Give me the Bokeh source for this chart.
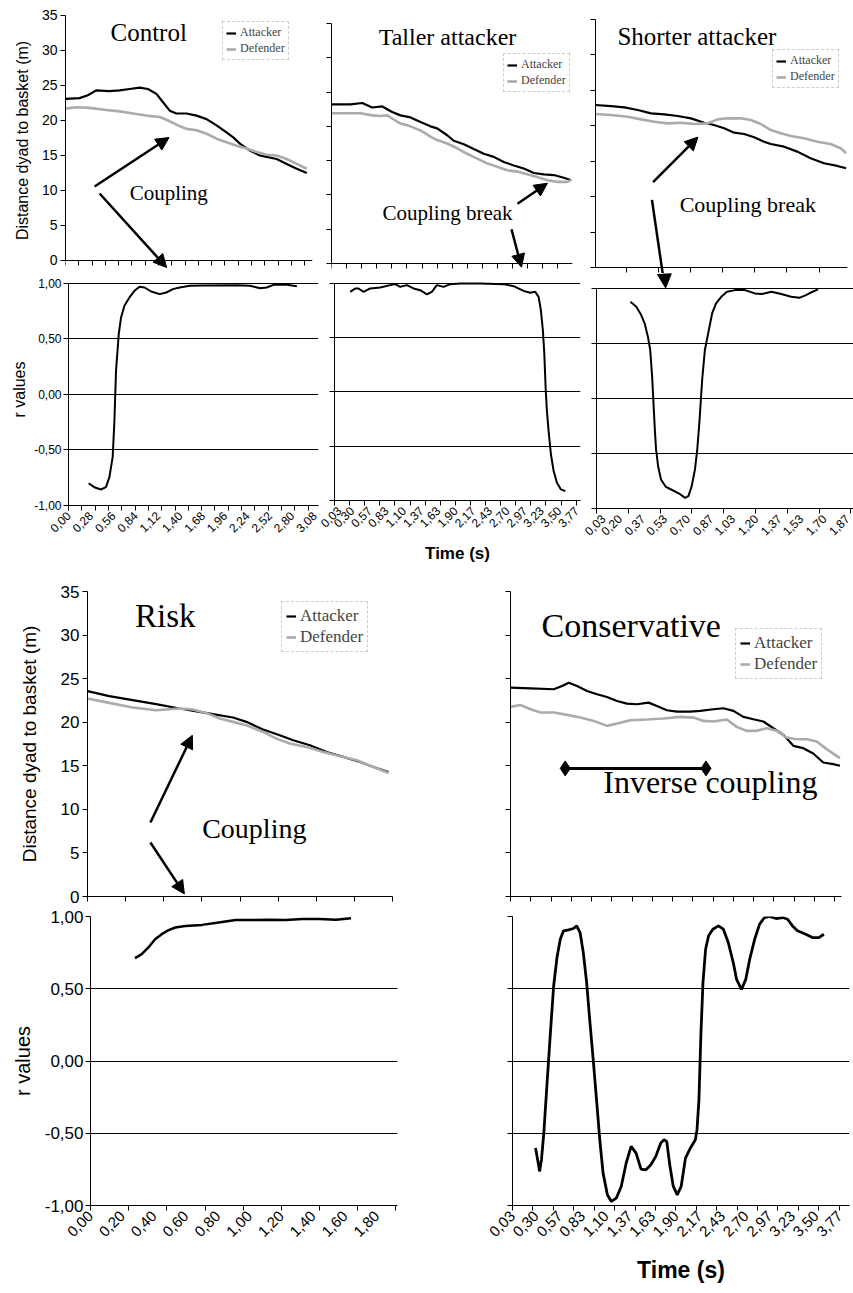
import math
from bokeh.plotting import figure
from bokeh.models import (FixedTicker, CustomJSTickFormatter, Label, Arrow, NormalHead,
                          Legend, LegendItem, Range1d)
from bokeh.layouts import row, column
from bokeh.embed import file_html
from bokeh.resources import INLINE

SERIF = "Liberation Serif"
SANS = "Liberation Sans"
GREY = "#ababab"

# ---------------- data: Control ----------------
control_att_t = [0.0, 0.176, 0.28, 0.386, 0.553, 0.679, 0.805, 0.931, 1.035, 1.141, 1.224, 1.308, 1.392, 1.518,
                 1.644, 1.77, 1.896, 2.021, 2.105, 2.189, 2.314, 2.44, 2.524, 2.65, 2.776, 2.902, 3.028]
control_att_d = [23.1, 23.2, 23.6, 24.3, 24.2, 24.3, 24.5, 24.7, 24.5, 23.8, 22.6, 21.4, 21.0, 21.0,
                 20.7, 20.2, 19.3, 18.3, 17.6, 16.7, 15.7, 15.0, 14.8, 14.5, 13.8, 13.1, 12.5]
control_def_t = [0.0, 0.135, 0.302, 0.512, 0.679, 0.847, 1.015, 1.182, 1.267, 1.392, 1.518, 1.644, 1.77,
                 1.896, 2.021, 2.147, 2.273, 2.399, 2.524, 2.65, 2.776, 2.902, 3.028]
control_def_d = [21.7, 21.9, 21.8, 21.5, 21.3, 21.0, 20.7, 20.5, 20.1, 19.4, 18.8, 18.6, 18.1,
                 17.4, 16.9, 16.4, 16.0, 15.5, 15.1, 15.0, 14.5, 13.8, 13.1]
control_r_t = [0.252, 0.323, 0.406, 0.469, 0.512, 0.553, 0.575, 0.595, 0.629, 0.658, 0.7, 0.763, 0.826, 0.889,
               0.952, 1.035, 1.141, 1.224, 1.308, 1.392, 1.518, 1.686, 2.105, 2.273, 2.399, 2.482, 2.566,
               2.734, 2.859]
control_r = [-0.80, -0.835, -0.856, -0.835, -0.745, -0.565, -0.235, 0.214, 0.544, 0.694, 0.80, 0.874, 0.934,
             0.97, 0.964, 0.928, 0.904, 0.919, 0.949, 0.964, 0.979, 0.982, 0.985, 0.979, 0.958, 0.964, 0.988,
             0.988, 0.976]
control_labels = [0.00, 0.28, 0.56, 0.84, 1.12, 1.40, 1.68, 1.96, 2.24, 2.52, 2.80, 3.08]

# ---------------- data: Taller attacker ----------------
taller_att_t = [0.03, 0.324, 0.505, 0.659, 0.814, 0.968, 1.096, 1.251, 1.406, 1.56, 1.663, 1.818, 1.92, 2.075,
                2.229, 2.384, 2.538, 2.693, 2.847, 3.002, 3.157, 3.311, 3.466, 3.62, 3.735]
taller_att_d = [23.2, 23.2, 23.4, 22.75, 22.9, 22.1, 21.6, 21.3, 20.65, 20.0, 19.7, 18.7, 17.9, 17.4,
                16.7, 16.0, 15.55, 14.8, 14.3, 13.85, 13.2, 13.0, 12.9, 12.5, 12.15]
taller_def_t = [0.03, 0.478, 0.659, 0.787, 0.891, 0.993, 1.096, 1.251, 1.406, 1.56, 1.663, 1.818, 1.973, 2.127,
                2.282, 2.436, 2.591, 2.746, 2.9, 3.055, 3.209, 3.364, 3.519, 3.673, 3.735]
taller_def_d = [21.9, 21.9, 21.6, 21.5, 21.6, 21.0, 20.4, 20.0, 19.4, 18.5, 18.0, 17.5, 16.8, 16.0,
                15.3, 14.6, 14.1, 13.6, 13.4, 13.0, 12.6, 12.15, 11.9, 11.9, 12.15]
taller_r_t = [0.273, 0.35, 0.401, 0.479, 0.582, 0.736, 0.891, 0.968, 1.045, 1.148, 1.251, 1.354, 1.457, 1.534,
              1.611, 1.715, 1.818, 1.973, 2.282, 2.642, 2.797, 2.951, 3.054, 3.131, 3.183, 3.218, 3.249, 3.271,
              3.291, 3.311, 3.337, 3.373, 3.415, 3.466, 3.528, 3.596]
taller_r = [0.923, 0.954, 0.954, 0.923, 0.954, 0.963, 0.985, 0.994, 0.969, 0.985, 0.954, 0.938, 0.90, 0.923,
            0.985, 0.969, 0.994, 1.0, 1.0, 0.994, 0.975, 0.932, 0.914, 0.923, 0.877, 0.753, 0.568, 0.352,
            0.043, -0.173, -0.358, -0.574, -0.728, -0.836, -0.898, -0.914]
taller_labels = [0.03, 0.30, 0.57, 0.83, 1.10, 1.37, 1.63, 1.90, 2.17, 2.43, 2.70, 2.97, 3.23, 3.50, 3.77]

# ---------------- data: Shorter attacker ----------------
shorter_att_t = [0.037, 0.153, 0.25, 0.347, 0.443, 0.54, 0.637, 0.733, 0.83, 0.90, 0.974, 1.047, 1.119, 1.192,
                 1.264, 1.313, 1.409, 1.506, 1.602, 1.699, 1.796, 1.86]
shorter_att_d = [22.93, 22.78, 22.6, 22.22, 21.75, 21.61, 21.38, 21.05, 20.43, 20.11, 19.64, 19.02, 18.84, 18.37,
                 17.75, 17.43, 17.05, 16.35, 15.41, 14.71, 14.33, 14.0]
shorter_def_t = [0.037, 0.153, 0.274, 0.371, 0.467, 0.564, 0.66, 0.757, 0.854, 0.926, 0.999, 1.095, 1.168, 1.24,
                 1.313, 1.385, 1.458, 1.554, 1.651, 1.747, 1.82, 1.86]
shorter_def_d = [21.66, 21.52, 21.28, 20.9, 20.57, 20.34, 20.43, 20.25, 20.34, 20.9, 21.05, 21.05, 20.81, 20.25,
                 19.4, 18.94, 18.56, 18.23, 17.75, 17.43, 16.82, 16.12]
shorter_r_t = [0.279, 0.322, 0.358, 0.383, 0.407, 0.424, 0.438, 0.448, 0.458, 0.467, 0.482, 0.503, 0.539, 0.588,
               0.636, 0.68, 0.704, 0.728, 0.752, 0.769, 0.786, 0.805, 0.825, 0.849, 0.878, 0.907, 0.945, 0.987,
               1.047, 1.119, 1.192, 1.24, 1.313, 1.385, 1.458, 1.518, 1.566, 1.615, 1.655]
shorter_r = [0.879, 0.834, 0.758, 0.683, 0.562, 0.441, 0.199, -0.042, -0.284, -0.465, -0.616, -0.737, -0.804,
             -0.834, -0.864, -0.903, -0.888, -0.798, -0.647, -0.465, -0.193, 0.169, 0.441, 0.592, 0.773, 0.864,
             0.924, 0.970, 0.985, 0.985, 0.955, 0.949, 0.970, 0.949, 0.924, 0.915, 0.940, 0.970, 0.991]
shorter_labels = [0.03, 0.20, 0.37, 0.53, 0.70, 0.87, 1.03, 1.20, 1.37, 1.53, 1.70, 1.87]

# ---------------- data: Risk ----------------
risk_att_t = [0.0, 0.137, 0.284, 0.432, 0.579, 0.705, 0.789, 0.916, 1.0, 1.105, 1.21, 1.295, 1.4, 1.505, 1.61,
              1.716, 1.8, 1.895]
risk_att_d = [23.56, 22.99, 22.53, 22.07, 21.57, 21.19, 20.92, 20.54, 20.04, 19.16, 18.5, 17.93, 17.36, 16.59,
              16.02, 15.44, 14.87, 14.29]
risk_def_t = [0.0, 0.137, 0.284, 0.432, 0.579, 0.663, 0.747, 0.832, 0.916, 1.0, 1.105, 1.189, 1.274, 1.379,
              1.484, 1.589, 1.695, 1.8, 1.895]
risk_def_d = [22.72, 22.22, 21.69, 21.38, 21.57, 21.46, 21.07, 20.42, 20.04, 19.66, 18.89, 18.12, 17.55, 17.16,
              16.59, 16.09, 15.63, 14.87, 14.18]
risk_r_t = [0.28, 0.322, 0.364, 0.406, 0.448, 0.491, 0.533, 0.596, 0.701, 0.806, 0.912, 1.017, 1.122, 1.227,
            1.333, 1.438, 1.543, 1.638]
risk_r = [0.712, 0.74, 0.786, 0.843, 0.878, 0.906, 0.924, 0.935, 0.942, 0.959, 0.975, 0.975, 0.977, 0.975,
          0.982, 0.982, 0.977, 0.988]
risk_labels = [0.00, 0.20, 0.40, 0.60, 0.80, 1.00, 1.20, 1.40, 1.60, 1.80]

# ---------------- data: Conservative ----------------
cons_att_t = [0.03, 0.26, 0.528, 0.624, 0.70, 0.796, 0.911, 1.026, 1.141, 1.256, 1.37, 1.485, 1.62, 1.715, 1.83,
              1.945, 2.098, 2.213, 2.366, 2.481, 2.596, 2.711, 2.826, 2.94, 3.056, 3.171, 3.286, 3.40, 3.515,
              3.63, 3.745, 3.822]
cons_att_d = [23.97, 23.89, 23.78, 24.16, 24.54, 24.16, 23.59, 23.21, 22.90, 22.44, 22.14, 22.06, 22.25, 21.87,
              21.37, 21.22, 21.22, 21.30, 21.49, 21.60, 21.30, 20.61, 20.34, 20.08, 19.31, 18.55, 17.29, 17.02,
              16.41, 15.38, 15.19, 15.0]
cons_def_t = [0.03, 0.145, 0.26, 0.375, 0.528, 0.681, 0.834, 0.988, 1.141, 1.256, 1.409, 1.60, 1.792, 1.983,
              2.137, 2.251, 2.366, 2.52, 2.634, 2.749, 2.864, 2.979, 3.094, 3.209, 3.324, 3.439, 3.554, 3.669,
              3.822]
cons_def_d = [21.76, 21.98, 21.49, 21.11, 21.11, 20.84, 20.53, 20.15, 19.58, 19.85, 20.23, 20.31, 20.42, 20.61,
              20.53, 20.15, 20.08, 20.31, 19.47, 19.01, 19.01, 19.31, 19.01, 18.24, 18.05, 18.05, 17.79, 16.91,
              15.88]
cons_r_t = [0.293, 0.324, 0.339, 0.361, 0.388, 0.425, 0.463, 0.500, 0.538, 0.576, 0.613, 0.670, 0.726, 0.764,
            0.802, 0.839, 0.877, 0.915, 0.952, 0.990, 1.027, 1.065, 1.114, 1.159, 1.216, 1.272, 1.329, 1.385,
            1.442, 1.498, 1.554, 1.611, 1.667, 1.724, 1.761, 1.792, 1.829, 1.867, 1.912, 1.957, 2.006, 2.063,
            2.119, 2.138, 2.160, 2.183, 2.206, 2.236, 2.270, 2.319, 2.383, 2.439, 2.495, 2.552, 2.590, 2.646,
            2.695, 2.740, 2.797, 2.853, 2.909, 2.966, 3.041, 3.116, 3.173, 3.229, 3.286, 3.380, 3.455, 3.531,
            3.587]
cons_r = [-0.602, -0.706, -0.764, -0.683, -0.498, -0.151, 0.195, 0.519, 0.716, 0.843, 0.901, 0.908, 0.917, 0.935,
          0.889, 0.750, 0.542, 0.265, 0.010, -0.267, -0.545, -0.776, -0.926, -0.972, -0.949, -0.868, -0.706,
          -0.591, -0.637, -0.748, -0.753, -0.718, -0.660, -0.568, -0.545, -0.556, -0.729, -0.868, -0.926,
          -0.868, -0.672, -0.602, -0.545, -0.475, -0.267, 0.195, 0.542, 0.773, 0.866, 0.912, 0.935, 0.912,
          0.820, 0.681, 0.565, 0.496, 0.565, 0.704, 0.843, 0.947, 0.993, 1.0, 0.986, 0.993, 0.981, 0.935,
          0.901, 0.877, 0.854, 0.854, 0.877]
cons_labels = [0.03, 0.30, 0.57, 0.83, 1.10, 1.37, 1.63, 1.90, 2.17, 2.43, 2.70, 2.97, 3.23, 3.50, 3.77]

dist_ticks = [0, 5, 10, 15, 20, 25, 30, 35]
r_ticks = [-1.0, -0.5, 0.0, 0.5, 1.0]

# ---------------- helpers ----------------
COMMA = "return tick.toFixed(2).replace('.', ',');"


def style_axis(ax, font_size, tick_out=5):
    ax.axis_line_color = "black"
    ax.major_tick_line_color = "black"
    ax.minor_tick_line_color = "black"
    ax.major_tick_out = tick_out
    ax.major_tick_in = 0
    ax.minor_tick_out = 0
    ax.minor_tick_in = 0
    ax.major_label_text_font = SANS
    ax.major_label_text_font_size = font_size
    ax.major_label_text_color = "black"
    ax.axis_label_text_font = SANS
    ax.axis_label_text_color = "black"
    ax.axis_label_text_font_style = "normal"


def hide_labels(ax):
    ax.major_label_text_font_size = "1px"
    ax.major_label_text_color = None
    ax.major_label_standoff = 0


def base_fig(xr, yr, fw, fh, left, right, top, bottom):
    p = figure(x_range=Range1d(*xr), y_range=Range1d(*yr), frame_width=fw, frame_height=fh,
               min_border=0, min_border_left=left, min_border_right=right, min_border_top=top,
               min_border_bottom=bottom, toolbar_location=None, output_backend="svg", title=None)
    p.outline_line_color = None
    p.xgrid.visible = False
    p.ygrid.visible = False
    return p


def dist_panel(xr, yr, fw, fh, left, right, top, bottom, mark_step, mark_start,
               ylabel=None, yfont="14px", ylabel_font="17px", ylabel_standoff=6):
    p = base_fig(xr, yr, fw, fh, left, right, top, bottom)
    xa, ya = p.xaxis[0], p.yaxis[0]
    style_axis(xa, "1px")
    hide_labels(xa)
    marks = [mark_start + mark_step * i for i in range(40) if mark_start + mark_step * i <= xr[1] + 1e-9]
    xa.ticker = FixedTicker(ticks=marks)
    if yr[0] != 0:
        # frame reaches a little below 0 (room for arrows), the time axis stays at distance 0
        xa.fixed_location = 0
    ya.bounds = (0, 35)
    style_axis(ya, yfont)
    ya.ticker = FixedTicker(ticks=dist_ticks)
    if ylabel:
        ya.major_label_standoff = 3
        ya.axis_label = ylabel
        ya.axis_label_text_font_size = ylabel_font
        ya.axis_label_standoff = ylabel_standoff
    else:
        hide_labels(ya)
    return p


def r_panel(xr, yr, fw, fh, left, right, top, bottom, labels, mark_step, mark_start, xfont,
            ylabel=None, yfont="12px", ylabel_font="17px", ylabel_standoff=4,
            xlabel=None, xlabel_font="17px", xlabel_standoff=10):
    p = base_fig(xr, yr, fw, fh, left, right, top, bottom)
    p.ygrid.visible = True
    p.ygrid.ticker = FixedTicker(ticks=r_ticks)
    p.ygrid.grid_line_color = "black"
    p.ygrid.grid_line_width = 1
    xa, ya = p.xaxis[0], p.yaxis[0]
    style_axis(xa, xfont, tick_out=0)
    marks = [mark_start + mark_step * i for i in range(40) if mark_start + mark_step * i <= xr[1] + 1e-9]
    xa.ticker = FixedTicker(ticks=labels, minor_ticks=marks)
    xa.minor_tick_out = 5
    xa.formatter = CustomJSTickFormatter(code=COMMA)
    xa.major_label_orientation = math.pi / 4
    xa.major_label_standoff = 3
    if xlabel:
        xa.axis_label = xlabel
        xa.axis_label_text_font_size = xlabel_font
        xa.axis_label_text_font_style = "bold"
        xa.axis_label_standoff = xlabel_standoff
    style_axis(ya, yfont)
    ya.ticker = FixedTicker(ticks=r_ticks)
    ya.bounds = (-1, 1)
    if ylabel:
        ya.formatter = CustomJSTickFormatter(code=COMMA)
        ya.major_label_standoff = 2
        ya.axis_label = ylabel
        ya.axis_label_text_font_size = ylabel_font
        ya.axis_label_standoff = ylabel_standoff
    else:
        hide_labels(ya)
    return p


def add_lines(p, at, ad, dt, dd, loc, font="12px", glyph=10, pad=3):
    ra = p.line(at, ad, line_color="black", line_width=2.2)
    rd = p.line(dt, dd, line_color=GREY, line_width=2.6)
    leg = Legend(items=[LegendItem(label="Attacker", renderers=[ra]),
                        LegendItem(label="Defender", renderers=[rd])], location=loc)
    leg.label_text_font = SERIF
    leg.label_text_font_size = font
    leg.label_height = 10
    leg.glyph_width = glyph
    leg.glyph_height = 10
    leg.label_standoff = 4
    leg.spacing = 1
    leg.padding = pad
    leg.margin = 0
    leg.border_line_color = "#9a9a9a"
    leg.border_line_dash = "dotted"
    leg.background_fill_alpha = 0
    p.add_layout(leg)


def add_text(p, x, y, text, size):
    p.add_layout(Label(x=x, y=y, text=text, text_font=SERIF, text_font_size=size,
                       text_align="center", text_baseline="middle", text_color="black"))


def add_arrow(p, x0, y0, x1, y1, head=True, head_size=13):
    p.add_layout(Arrow(end=NormalHead(size=head_size, fill_color="black", line_color="black") if head else None,
                       x_start=x0, y_start=y0, x_end=x1, y_end=y1, line_color="black", line_width=2.5))


# ---------------- top block ----------------
# Bokeh aligns the frames of a row, so every panel of a row gets the same borders;
# each panel's own offsets come from its y range (axes are bounded to their real extent).
c_d = dist_panel((0, 3.10), (-1.857, 36.14), 247, 266, 57, 4, 7, 0, 0.1667, 0.0,
                 ylabel="Distance dyad to basket (m)", yfont="14px", ylabel_font="16px", ylabel_standoff=8)
add_lines(c_d, control_att_t, control_att_d, control_def_t, control_def_d, (157, 213))
add_text(c_d, 1.044, 32.5, "Control", "25px")
add_text(c_d, 1.296, 9.7, "Coupling", "21px")
add_arrow(c_d, 0.365, 10.57, 1.30, 17.57)
add_arrow(c_d, 0.428, 9.57, 1.27, -1.0)

t_d = dist_panel((0.03, 3.755), (-1.458, 37.33), 241, 266, 15, 8, 7, 0, 0.2333, 0.03)
add_lines(t_d, taller_att_t, taller_att_d, taller_def_t, taller_def_d, (172, 181))
add_text(t_d, 1.823, 33.1, "Taller attacker", "24px")
add_text(t_d, 1.823, 7.4, "Coupling break", "21px")
add_arrow(t_d, 2.905, 8.7, 3.368, 11.7)
add_arrow(t_d, 2.812, 5.0, 2.967, -0.54)

s_d = dist_panel((0.04, 1.87), (-0.847, 36.69), 252, 266, 15, 5, 7, 0, 0.2333, 0.03)
add_lines(s_d, shorter_att_t, shorter_att_d, shorter_def_t, shorter_def_d, (177, 185))
add_text(s_d, 0.776, 32.6, "Shorter attacker", "25px")
add_text(s_d, 1.146, 8.83, "Coupling break", "22px")
add_arrow(s_d, 0.458, 12.05, 0.784, 18.4)
add_arrow(s_d, 0.45, 9.54, 0.528, -0.847, head=False)

c_r = r_panel((0, 3.13), (-1, 1.09), 250, 232, 57, 1, 0, 75, control_labels, 0.1667, 0.0, "12px",
              ylabel="r values", yfont="12px", ylabel_font="16px", ylabel_standoff=3)
c_r.line(control_r_t, control_r, line_color="black", line_width=2)

t_r = r_panel((0.03, 3.83), (-1, 1.092), 246, 227, 15, 3, 0, 80, taller_labels, 0.2333, 0.03, "12px",
              xlabel="Time (s)", xlabel_font="17px", xlabel_standoff=10)
t_r.line(taller_r_t, taller_r, line_color="black", line_width=2)

s_r = r_panel((0.03, 1.915), (-1, 1.136), 257, 235, 13, 2, 0, 72, shorter_labels, 0.2333, 0.03, "12px")
s_r.line(shorter_r_t, shorter_r, line_color="black", line_width=2)
# arrow head coming from the panel above, ending on the 1,00 line
add_arrow(s_r, 0.528, 1.136, 0.537, 1.005, head_size=14)

# ---------------- bottom block ----------------
rk_d = dist_panel((0, 1.92), (0, 35), 305, 305, 79, 58, 11, 10, 0.24, 0.0,
                  ylabel="Distance dyad to basket (m)", yfont="17px", ylabel_font="19px", ylabel_standoff=18)
add_lines(rk_d, risk_att_t, risk_att_d, risk_def_t, risk_def_d, (194, 244), font="17px", glyph=10, pad=4)
add_text(rk_d, 0.49, 32.2, "Risk", "33px")
add_text(rk_d, 1.05, 7.8, "Coupling", "28px")
add_arrow(rk_d, 0.396, 8.5, 0.66, 18.5)
add_arrow(rk_d, 0.396, 6.2, 0.61, 0.3)

cs_d = dist_panel((0.03, 3.84), (0, 35), 331, 305, 60, 11, 11, 10, 0.2333, 0.03)
add_lines(cs_d, cons_att_t, cons_att_d, cons_def_t, cons_def_d, (225, 217), font="17px", glyph=10, pad=4)
add_text(cs_d, 1.42, 31.1, "Conservative", "34px")
add_text(cs_d, 2.33, 13.1, "Inverse coupling", "32px")
cs_d.segment(x0=[0.66], y0=[14.7], x1=[2.28], y1=[14.7], line_color="black", line_width=3)
cs_d.scatter([0.66, 2.28], [14.7, 14.7], marker="diamond", size=15, fill_color="black", line_color="black")

rk_r = r_panel((0, 1.93), (-1, 1), 307, 289, 80, 55, 10, 78, risk_labels, 0.24, 0.0, "15px",
               ylabel="r values", yfont="17px", ylabel_font="20px", ylabel_standoff=8)
rk_r.line(risk_r_t, risk_r, line_color="black", line_width=2.5)

cs_r = r_panel((0.03, 3.88), (-1, 1), 337, 289, 60, 5, 10, 78, cons_labels, 0.2333, 0.03, "15px",
               xlabel="Time (s)", xlabel_font="23px", xlabel_standoff=13)
cs_r.line(cons_r_t, cons_r, line_color="black", line_width=2.8)

layout = column(
    row(c_d, t_d, s_d),
    row(c_r, t_r, s_r),
    row(rk_d, cs_d),
    row(rk_r, cs_r),
)
layout.margin = (0, 0, 0, 8)

open("out.html", "w").write(file_html(layout, INLINE))
